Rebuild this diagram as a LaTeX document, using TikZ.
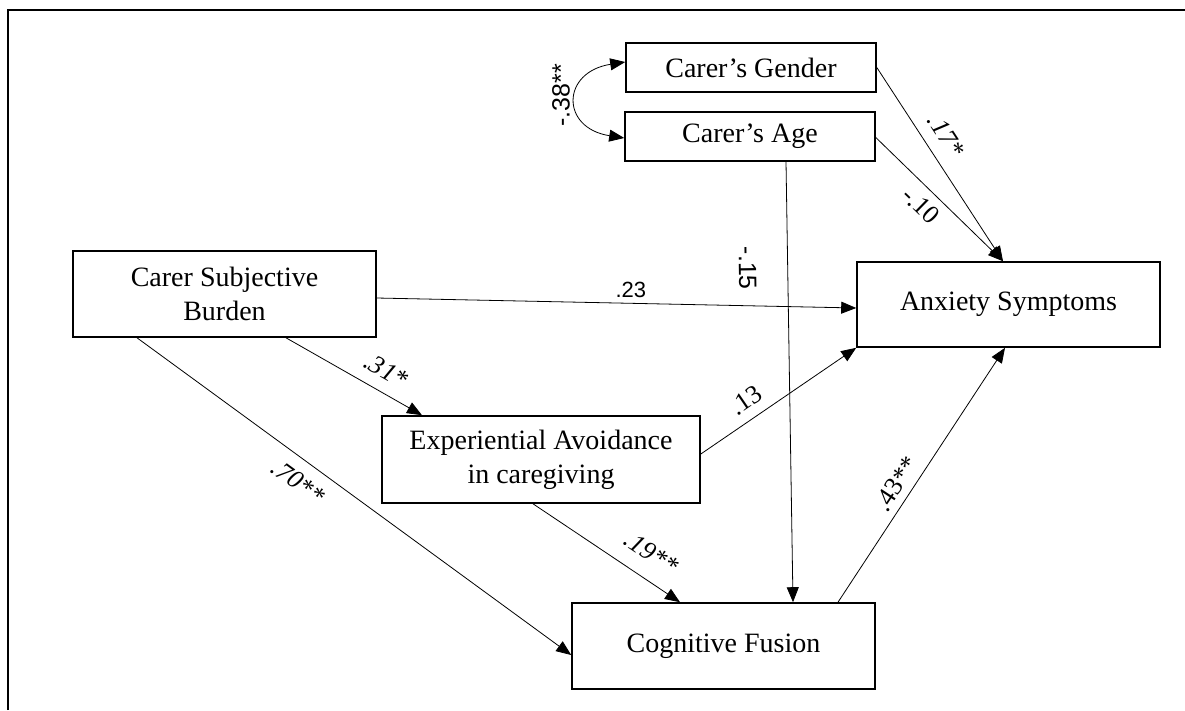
\documentclass[tikz,border=0pt]{standalone}
\usepackage{fontspec}
\setmainfont{Liberation Serif}
\newfontfamily\lsans{Liberation Sans}
\usetikzlibrary{arrows.meta}
\begin{document}
\begin{tikzpicture}[x=1pt,y=-1pt,
  box/.style={draw, line width=1.6pt, inner sep=0pt, align=center,
    font=\fontsize{28}{34}\selectfont},
  conn/.style={line width=0.8pt, -{Triangle[length=15pt,width=12pt]}},
  dconn/.style={line width=0.8pt, {Triangle[length=15pt,width=12pt]}-{Triangle[length=15pt,width=12pt]}},
  lab/.style={font=\fontsize{26}{30}\selectfont, inner xsep=1pt},
  ilab/.style={font=\fontsize{26}{30}\selectfont\itshape, inner xsep=1pt},
  slab/.style={font=\fontsize{25}{29}\selectfont\lsans, inner xsep=1pt}]
\useasboundingbox (0,0) rectangle (1185,710);
% frame
\draw[line width=2.2pt] (8,710) -- (8,10) -- (1185,10);
% boxes
\node[box, minimum width=250pt, minimum height=49pt] (gender) at (751,67.5) {Carer’s Gender};
\node[box, minimum width=250pt, minimum height=49pt] (age) at (750,136.5) {Carer’s Age};
\node[box, minimum width=303pt, minimum height=86pt] (burden) at (224.5,294) {Carer Subjective\\Burden};
\node[box, minimum width=318pt, minimum height=87pt] (exp) at (541,459.5) {Experiential Avoidance\\in caregiving};
\node[box, minimum width=303pt, minimum height=86pt] (cog) at (723.5,646) {Cognitive Fusion};
\node[box, minimum width=303pt, minimum height=85pt] (anx) at (1008.5,304.5) {Anxiety Symptoms};
% connectors
\draw[dconn] ([yshift=5.5pt]gender.west) .. controls +(-64,10) and +(-64,-10) .. ([yshift=-1.5pt]age.west)
  node[slab, pos=0.45, rotate=90, anchor=south, inner ysep=7pt] (l38) {-.38**};
\draw[conn] ([yshift=-4pt]burden.east) -- ([yshift=-3.5pt]anx.west)
  node[slab, font=\fontsize{22}{26}\selectfont\lsans, pos=0.53, above, inner ysep=5pt] (l23) {.23};
\draw[conn] ([xshift=61.5pt]burden.south) -- ([xshift=-119pt]exp.north)
  node[ilab, pos=0.66, sloped, above, inner ysep=12pt] (l31) {.31*};
\draw[conn] ([xshift=-87.5pt]burden.south) -- ([yshift=-9pt]cog.west)
  node[ilab, pos=0.40, sloped, below, inner ysep=12pt] (l70) {.70**};
\draw[conn] ([xshift=-8pt]exp.south) -- ([xshift=-43.5pt]cog.north)
  node[ilab, pos=0.71, sloped, above, inner ysep=16pt] (l19) {.19**};
\draw[conn] ([yshift=5.5pt]exp.east) -- (anx.south west)
  node[lab, pos=0.36, sloped, above, inner ysep=10pt] (l13) {.13};
\draw[conn] ([xshift=36pt]age.south) -- ([xshift=69.5pt]cog.north)
  node[slab, pos=0.24, sloped, below, inner ysep=31pt] (l15) {-.15};
\draw[conn] ([yshift=-1pt]age.east) -- ([xshift=-5.5pt]anx.north)
  node[lab, pos=0.45, sloped, below, inner ysep=8pt] (l10) {-.10};
\draw[conn] (gender.east) -- ([xshift=-5.5pt]anx.north)
  node[ilab, pos=0.41, sloped, above, inner ysep=12pt] (l17) {.17*};
\draw[conn] ([xshift=114.5pt]cog.north) -- ([xshift=-3.5pt]anx.south)
  node[lab, pos=0.43, sloped, above, inner ysep=7pt] (l43) {.43**};
\end{tikzpicture}
\end{document}
